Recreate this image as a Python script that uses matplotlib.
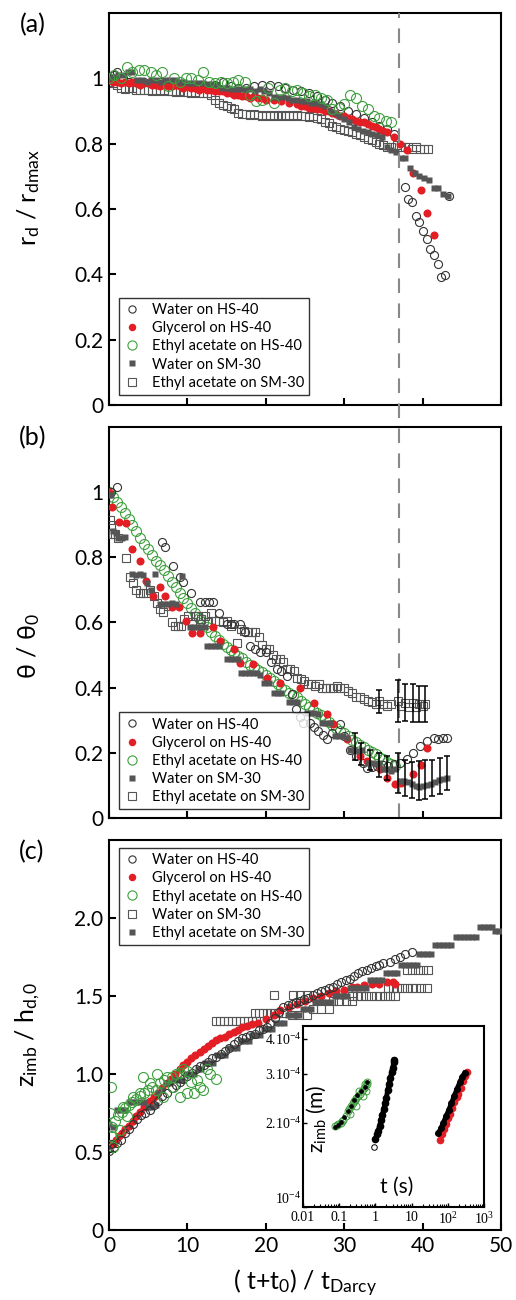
import numpy as np
import matplotlib
matplotlib.use('Agg')
import matplotlib.pyplot as plt
from matplotlib.lines import Line2D

plt.rcParams['font.family'] = ['Lato', 'DejaVu Sans']
plt.rcParams['mathtext.default'] = 'regular'

RED = '#e31e24'
GREEN = '#3f9f3f'
GRAY = '#555555'
DARK = '#333333'

# ---------------- panel (a): r_d / r_dmax ----------------
a_water_hs = [(0, 1.0), (0.6, 1.01), (1.0, 1.02), (1.8, 1.0), (2.6, 0.99), (3.5, 0.99), (4.5, 0.99),
              (5.5, 0.985), (6.5, 0.99), (7.5, 0.98), (8.5, 0.985), (9.5, 0.98), (10.5, 0.98),
              (11.5, 0.975), (12.5, 0.975), (13.5, 0.98), (14.5, 0.99), (15.5, 0.975), (16.5, 0.97),
              (17.5, 0.97), (18.5, 0.975), (19.5, 0.98), (20.5, 0.98), (21.5, 0.975), (22.5, 0.97),
              (23.5, 0.965), (24.5, 0.96), (25.5, 0.955), (26.5, 0.945), (27.5, 0.935), (28.5, 0.925),
              (29.5, 0.915), (30.5, 0.90), (31.5, 0.89), (32.5, 0.88), (33.5, 0.865), (34.5, 0.855),
              (35.5, 0.845), (36.3, 0.83), (37.8, 0.667), (38.1, 0.632), (38.6, 0.62), (39.1, 0.578),
              (39.6, 0.56), (40.1, 0.532), (40.5, 0.507), (41.0, 0.476), (41.4, 0.459), (42.0, 0.431),
              (42.4, 0.392), (42.9, 0.397), (43.4, 0.64)]
a_glycerol = [(0, 0.995), (0.5, 0.99), (1, 0.99), (1.5, 0.985), (2, 0.99), (2.5, 0.985), (3, 0.99),
              (3.5, 0.985), (4, 0.98), (4.5, 0.985), (5, 0.985), (5.5, 0.98), (6, 0.98), (6.5, 0.975),
              (7, 0.98), (7.5, 0.975), (8, 0.975), (8.5, 0.98), (9, 0.975), (9.5, 0.97), (10, 0.975),
              (10.5, 0.97), (11, 0.97), (11.5, 0.965), (12, 0.97), (12.5, 0.965), (13, 0.965),
              (13.5, 0.96), (14, 0.96), (14.5, 0.96), (15, 0.955), (15.5, 0.955), (16, 0.95),
              (16.5, 0.95), (17, 0.945), (17.5, 0.945), (18, 0.94), (18.5, 0.945), (19, 0.94),
              (19.5, 0.94), (20, 0.935), (21, 0.935), (22, 0.93), (23, 0.925), (24, 0.92), (24.5, 0.915),
              (25, 0.915), (25.5, 0.91), (26, 0.91), (26.5, 0.905), (27, 0.905), (27.5, 0.9), (28, 0.9),
              (28.5, 0.895), (29, 0.89), (29.5, 0.885), (30, 0.885), (30.5, 0.88), (31, 0.875),
              (31.5, 0.87), (32, 0.865), (32.5, 0.865), (33, 0.86), (33.5, 0.855), (34, 0.85),
              (34.5, 0.845), (35, 0.84), (35.5, 0.835), (36.3, 0.82), (37.1, 0.80), (38.0, 0.78),
              (38.8, 0.71), (39.8, 0.657), (40.5, 0.589), (41.4, 0.52)]
a_ethyl_hs = [(0, 1.0), (0.7, 1.01), (1.5, 1.0), (2.3, 1.035), (3, 1.02), (3.8, 1.025), (4.5, 1.025),
              (5.3, 1.02), (6, 1.01), (6.8, 1.02), (7.5, 0.975), (8.3, 1.0), (9, 0.99), (9.8, 1.0),
              (10.5, 1.0), (11.3, 0.995), (12, 1.02), (12.8, 0.99), (13.5, 0.985), (14.3, 0.99),
              (15, 0.985), (15.8, 0.99), (16.5, 0.995), (17.3, 0.99), (18, 0.95), (18.8, 0.93),
              (19.5, 0.935), (20.3, 0.97), (21, 0.925), (21.8, 0.965), (22.5, 0.97), (23.3, 0.96),
              (24, 0.965), (24.8, 0.955), (25.5, 0.945), (26.3, 0.95), (27, 0.94), (27.8, 0.935),
              (28.5, 0.905), (29.3, 0.91), (30, 0.92), (30.8, 0.95), (31.5, 0.94), (32.3, 0.915),
              (33, 0.905), (33.8, 0.885), (34.5, 0.88), (35.3, 0.87), (36, 0.865)]
a_water_sm = [(0, 1.0), (0.6, 1.005), (1.2, 1.01), (1.8, 1.01), (2.4, 1.018), (3.0, 1.018), (3.6, 0.995),
              (4.2, 0.995), (4.8, 0.99), (5.4, 0.995), (6.0, 0.995), (6.6, 0.99), (7.2, 0.995),
              (7.8, 0.994), (8.4, 0.994), (9.0, 0.99), (9.6, 0.99), (10.2, 0.985), (10.8, 0.985),
              (11.4, 0.985), (12.0, 0.985), (12.6, 0.982), (13.2, 0.982), (13.8, 0.98), (14.4, 0.97),
              (15.0, 0.97), (15.6, 0.968), (16.2, 0.968), (16.8, 0.968), (17.4, 0.966), (18.0, 0.966),
              (18.6, 0.96), (19.2, 0.966), (19.8, 0.96), (20.4, 0.955), (21.0, 0.942), (21.6, 0.942),
              (22.2, 0.942), (22.8, 0.94), (23.4, 0.935), (24.0, 0.935), (24.6, 0.932), (25.2, 0.93),
              (25.8, 0.925), (26.4, 0.925), (27.0, 0.92), (27.6, 0.915), (28.2, 0.9), (28.8, 0.895),
              (29.4, 0.885), (30.0, 0.875), (30.6, 0.865), (31.2, 0.85), (31.8, 0.845), (32.4, 0.84),
              (33.0, 0.835), (33.6, 0.83), (34.2, 0.825), (34.8, 0.82), (35.4, 0.79), (36.0, 0.78),
              (36.6, 0.775), (37.2, 0.755), (37.8, 0.755), (38.4, 0.725), (39.0, 0.71), (39.6, 0.70),
              (40.2, 0.694), (40.8, 0.69), (41.4, 0.663), (42.0, 0.663), (42.6, 0.645), (43.2, 0.64)]
a_ethyl_sm = [(0, 0.99), (0.5, 0.985), (1.0, 0.98), (1.5, 0.97), (2.0, 0.968), (2.5, 0.97), (3.0, 0.97),
              (3.5, 0.965), (4.0, 0.965), (4.5, 0.963), (5.0, 0.963), (5.5, 0.96), (6.0, 0.963),
              (6.5, 0.96), (7.0, 0.963), (7.5, 0.96), (8.0, 0.96), (8.5, 0.958), (9.0, 0.96),
              (9.5, 0.958), (10.0, 0.958), (10.5, 0.955), (11.0, 0.958), (11.5, 0.955), (12.0, 0.955),
              (12.5, 0.955), (13.0, 0.95), (13.5, 0.935), (14.0, 0.925), (14.5, 0.917), (15.0, 0.915),
              (15.5, 0.91), (16.0, 0.905), (16.5, 0.895), (17.0, 0.89), (17.5, 0.89), (18.0, 0.887),
              (18.5, 0.89), (19.0, 0.887), (19.5, 0.885), (20.0, 0.887), (20.5, 0.885), (21.0, 0.887),
              (21.5, 0.885), (22.0, 0.887), (22.5, 0.885), (23.0, 0.887), (23.5, 0.885), (24.0, 0.887),
              (24.5, 0.885), (25.0, 0.885), (25.5, 0.882), (26.0, 0.885), (26.5, 0.88), (27.0, 0.875),
              (27.5, 0.865), (28.0, 0.862), (28.5, 0.855), (29.0, 0.85), (29.5, 0.845), (30.0, 0.842),
              (30.5, 0.84), (31.0, 0.835), (31.5, 0.83), (32.0, 0.825), (32.5, 0.82), (33.0, 0.815),
              (33.5, 0.81), (34.0, 0.805), (34.5, 0.80), (35.0, 0.795), (35.5, 0.79), (36.0, 0.79),
              (36.7, 0.795), (37.2, 0.79), (37.7, 0.79), (38.2, 0.79), (38.7, 0.785), (39.2, 0.79),
              (39.7, 0.785), (40.2, 0.785), (40.7, 0.785)]

# ---------------- panel (b): theta / theta_0 ----------------
b_water_hs = [(0.3, 1.0), (1.0, 1.015), (6.7, 0.846), (7.1, 0.831), (8.2, 0.774), (9.0, 0.74), (9.5, 0.723),
              (10.5, 0.69), (11.6, 0.664), (12.2, 0.664), (12.8, 0.664), (13.3, 0.664), (14.0, 0.63),
              (15.0, 0.595), (15.5, 0.595), (16.0, 0.595), (16.7, 0.595), (17.3, 0.57), (18.0, 0.528),
              (18.6, 0.52), (19.3, 0.508), (20.0, 0.508), (20.7, 0.48), (21.4, 0.456), (22.0, 0.45),
              (22.7, 0.436), (23.3, 0.38), (23.9, 0.333), (24.4, 0.31), (24.8, 0.292), (25.6, 0.292),
              (26.2, 0.28), (26.7, 0.267), (27.3, 0.255), (27.8, 0.241), (28.5, 0.26), (29.5, 0.287),
              (30.0, 0.25), (30.7, 0.21), (31.5, 0.19), (32.4, 0.169), (32.9, 0.154), (33.5, 0.155),
              (34.2, 0.16), (35.0, 0.164), (35.6, 0.16), (36.3, 0.165), (37.1, 0.169), (38.0, 0.18),
              (38.8, 0.2), (39.7, 0.22), (40.5, 0.236), (41.4, 0.246), (42.0, 0.243), (42.6, 0.246),
              (43.1, 0.246)]
b_glycerol = [(0, 1.0), (0.4, 0.954), (1.3, 0.908), (2.2, 0.906), (3.0, 0.826), (4.0, 0.79), (4.7, 0.726),
              (5.6, 0.682), (6.5, 0.708), (7.2, 0.682), (8.1, 0.646), (8.9, 0.646), (9.8, 0.605),
              (10.6, 0.569), (11.6, 0.569), (13.3, 0.585), (14.2, 0.544), (15.9, 0.518), (16.7, 0.477),
              (18.4, 0.472), (20.1, 0.431), (21.8, 0.415), (24.4, 0.40), (26.1, 0.354), (27.8, 0.318),
              (28.6, 0.287), (30.3, 0.241), (32.0, 0.19), (32.9, 0.174), (34.6, 0.149), (35.4, 0.123),
              (36.5, 0.103), (37.3, 0.108), (38.8, 0.135), (39.8, 0.164), (40.6, 0.215)]
b_ethyl_hs = [(0, 1.0), (0.5, 0.985), (1.0, 0.97), (1.5, 0.955), (2.0, 0.935), (2.5, 0.918), (3.0, 0.9),
              (3.5, 0.88), (4.0, 0.86), (4.5, 0.842), (5.0, 0.825), (5.5, 0.808), (6.0, 0.79),
              (6.5, 0.775), (7.0, 0.76), (7.5, 0.742), (8.0, 0.725), (8.5, 0.708), (9.0, 0.69),
              (9.5, 0.675), (10.0, 0.66), (10.5, 0.645), (11.0, 0.63), (11.5, 0.615), (12.0, 0.6),
              (12.5, 0.585), (13.0, 0.57), (13.5, 0.558), (14.0, 0.545), (14.5, 0.535), (15.0, 0.525),
              (15.5, 0.515), (16.0, 0.505), (16.5, 0.498), (17.0, 0.49), (17.5, 0.48), (18.0, 0.47),
              (18.5, 0.462), (19.0, 0.455), (19.5, 0.448), (20.0, 0.44), (20.5, 0.43), (21.0, 0.42),
              (21.5, 0.41), (22.0, 0.40), (22.5, 0.392), (23.0, 0.385), (23.5, 0.378), (24.0, 0.37),
              (24.5, 0.36), (25.0, 0.35), (25.5, 0.34), (26.0, 0.33), (26.5, 0.322), (27.0, 0.315),
              (27.5, 0.305), (28.0, 0.295), (28.5, 0.285), (29.0, 0.275), (29.5, 0.268), (30.0, 0.26),
              (30.5, 0.25), (31.0, 0.24), (31.5, 0.232), (32.0, 0.225), (32.5, 0.218), (33.0, 0.21),
              (33.5, 0.202), (34.0, 0.195), (34.5, 0.188), (35.0, 0.18), (35.5, 0.172), (36.0, 0.165),
              (36.5, 0.158)]
b_water_sm = [(0, 0.99), (0.3, 0.99), (0.5, 0.882), (0.9, 0.875), (1.2, 0.858), (1.6, 0.858), (2.0, 0.862),
              (2.9, 0.749), (3.4, 0.745), (3.9, 0.75), (4.4, 0.745), (4.9, 0.72), (5.4, 0.70), (5.9, 0.749),
              (6.5, 0.656), (7.0, 0.656), (7.5, 0.656), (8.0, 0.66), (8.5, 0.656), (9.3, 0.744),
              (10.3, 0.585), (10.8, 0.585), (11.3, 0.585), (11.8, 0.585), (12.3, 0.585), (12.5, 0.528),
              (13.0, 0.528), (13.5, 0.528), (14.0, 0.528), (15.0, 0.487), (15.5, 0.487), (16.0, 0.487),
              (16.5, 0.487), (16.9, 0.446), (17.4, 0.446), (17.9, 0.446), (18.4, 0.446), (18.9, 0.446),
              (19.3, 0.44), (19.8, 0.415), (20.4, 0.415), (21.0, 0.383), (21.5, 0.383), (22.0, 0.383),
              (23.0, 0.356), (23.5, 0.356), (24.0, 0.356), (25.2, 0.323), (25.7, 0.323), (26.2, 0.323),
              (26.7, 0.32), (27.2, 0.292), (27.7, 0.292), (28.2, 0.29), (28.8, 0.251), (29.3, 0.25),
              (29.8, 0.251), (30.3, 0.245), (30.8, 0.21), (31.3, 0.21), (31.8, 0.205), (32.3, 0.21),
              (33.0, 0.17), (33.5, 0.169), (34.0, 0.165), (34.5, 0.169), (35.0, 0.15), (35.5, 0.149),
              (36.0, 0.145), (36.5, 0.149), (37.1, 0.113), (37.6, 0.113), (38.1, 0.11), (38.6, 0.105),
              (39.1, 0.097), (39.6, 0.095), (40.1, 0.097), (40.6, 0.10), (41.1, 0.105), (41.6, 0.11),
              (42.1, 0.115), (42.6, 0.12), (43.1, 0.123)]
b_ethyl_sm = [(0.1, 0.913), (0.3, 0.90), (0.55, 0.872), (0.8, 0.87), (1.1, 0.86), (2.2, 0.797), (2.7, 0.74),
              (3.1, 0.72), (3.5, 0.70), (3.9, 0.69), (4.3, 0.69), (4.7, 0.69), (5.2, 0.70), (5.7, 0.682),
              (6.1, 0.66), (6.5, 0.64), (6.9, 0.633), (7.5, 0.65), (8.0, 0.60), (8.4, 0.59), (8.8, 0.59),
              (9.2, 0.59), (9.6, 0.61), (10.1, 0.62), (10.6, 0.60), (11.0, 0.62), (11.4, 0.62),
              (11.8, 0.61), (12.2, 0.62), (12.6, 0.60), (13.0, 0.63), (13.5, 0.605), (14.0, 0.605),
              (14.5, 0.60), (15.0, 0.605), (15.5, 0.59), (16.3, 0.536), (16.8, 0.58), (17.2, 0.575),
              (17.7, 0.57), (18.2, 0.57), (18.6, 0.57), (19.1, 0.555), (19.5, 0.53), (20.0, 0.52),
              (20.4, 0.518), (20.9, 0.50), (21.3, 0.487), (21.8, 0.487), (22.2, 0.48), (22.7, 0.456),
              (23.1, 0.456), (23.6, 0.45), (24.0, 0.43), (24.5, 0.426), (24.9, 0.42), (25.4, 0.41),
              (25.8, 0.41), (26.3, 0.405), (26.8, 0.41), (27.2, 0.40), (27.7, 0.40), (28.2, 0.40),
              (28.6, 0.40), (29.1, 0.405), (29.5, 0.40), (30.0, 0.40), (30.5, 0.39), (31.0, 0.385),
              (31.5, 0.37), (32.0, 0.37), (32.5, 0.365), (33.0, 0.36), (33.5, 0.355), (34.0, 0.35),
              (34.4, 0.358), (35.0, 0.35), (35.5, 0.345), (36.0, 0.35), (36.9, 0.36), (37.3, 0.345),
              (37.8, 0.354), (38.3, 0.34), (38.8, 0.352), (39.2, 0.34), (39.6, 0.35), (40.0, 0.345),
              (40.3, 0.35)]
# error bars (x, y, half-width)
b_water_sm_err = [(31.4, 0.22, 0.041), (32.2, 0.197, 0.033), (33.3, 0.178, 0.031), (34.4, 0.163, 0.036),
                  (35.4, 0.153, 0.036), (36.9, 0.138, 0.062), (37.8, 0.123, 0.056), (38.6, 0.117, 0.056),
                  (39.5, 0.115, 0.059), (40.3, 0.118, 0.059), (41.2, 0.123, 0.056), (42.2, 0.129, 0.054),
                  (43.1, 0.138, 0.051)]
b_ethyl_sm_err = [(34.4, 0.358, 0.036), (36.9, 0.36, 0.064), (37.8, 0.354, 0.056), (38.8, 0.352, 0.058),
                  (39.6, 0.35, 0.056), (40.3, 0.35, 0.056)]

# ---------------- panel (c): z_imb / h_d,0 ----------------
c_water_hs = [(0, 0.51), (0.3, 0.55), (0.6, 0.53), (1.0, 0.56), (1.5, 0.58), (2.0, 0.62), (2.5, 0.65),
              (3.1, 0.68), (3.6, 0.71), (4.1, 0.74), (4.6, 0.75), (5.2, 0.77), (5.7, 0.80), (6.2, 0.83),
              (6.8, 0.86), (7.4, 0.88), (8.0, 0.91), (8.5, 0.93), (9.0, 0.95), (9.5, 0.97), (10.0, 0.99),
              (10.6, 1.01), (11.1, 1.03), (11.6, 1.05), (12.1, 1.06), (12.6, 1.08), (13.2, 1.10),
              (13.7, 1.11), (14.3, 1.13), (14.8, 1.15), (15.3, 1.17), (15.9, 1.19), (16.4, 1.21),
              (17.0, 1.23), (17.5, 1.24), (18.0, 1.25), (18.6, 1.26), (19.1, 1.28), (19.6, 1.29),
              (20.1, 1.30), (20.6, 1.33), (21.2, 1.36), (21.7, 1.40), (22.2, 1.43), (22.8, 1.44),
              (23.3, 1.45), (23.8, 1.46), (24.4, 1.47), (24.9, 1.48), (25.4, 1.49), (26.0, 1.51),
              (26.5, 1.52), (27.0, 1.53), (27.6, 1.54), (28.1, 1.55), (28.6, 1.56), (29.1, 1.58),
              (29.6, 1.59), (30.2, 1.60), (30.7, 1.61), (31.2, 1.63), (31.8, 1.65), (32.3, 1.66),
              (32.9, 1.67), (33.4, 1.68), (34.0, 1.69), (34.5, 1.70), (35.0, 1.71), (35.8, 1.72),
              (36.5, 1.74), (37.1, 1.75), (37.8, 1.77), (38.6, 1.78)]
c_glycerol = [(0.5, 0.55), (0.9, 0.58), (1.3, 0.60), (1.7, 0.62), (2.1, 0.65), (2.5, 0.67), (3.1, 0.70),
              (3.5, 0.73), (4.0, 0.76), (4.5, 0.79), (5.2, 0.83), (5.7, 0.85), (6.2, 0.88), (6.8, 0.91),
              (7.4, 0.94), (7.9, 0.97), (8.4, 1.0), (9.0, 1.03), (9.5, 1.06), (10.0, 1.08), (10.5, 1.10),
              (11.0, 1.12), (11.6, 1.14), (12.1, 1.16), (12.6, 1.18), (13.2, 1.2), (13.7, 1.22),
              (14.2, 1.23), (14.8, 1.24), (15.3, 1.26), (15.9, 1.27), (16.4, 1.28), (17.0, 1.30),
              (17.6, 1.31), (18.2, 1.32), (19.0, 1.33), (20.0, 1.35), (21.0, 1.38), (21.8, 1.41),
              (23.0, 1.43), (24.0, 1.45), (25.0, 1.47), (26.0, 1.49), (27.0, 1.50), (28.0, 1.52),
              (29.0, 1.53), (30.0, 1.54), (31.0, 1.56), (31.6, 1.56), (32.5, 1.57), (33.5, 1.58),
              (34.5, 1.58), (35.5, 1.59), (36.2, 1.59), (36.5, 1.58)]
c_ethyl_hs = [(0.2, 0.92), (0.1, 0.75), (0.2, 0.60), (0.5, 0.53), (0.4, 0.66), (0.8, 0.70), (1.2, 0.74),
              (1.4, 0.64), (1.6, 0.76), (1.8, 0.79), (2.0, 0.78), (2.3, 0.73), (2.5, 0.80), (3.0, 0.82),
              (3.1, 0.85), (3.5, 0.84), (3.9, 0.88), (4.0, 0.86), (4.4, 0.98), (4.5, 0.88), (5.0, 0.90),
              (5.2, 0.94), (5.5, 0.92), (6.0, 0.90), (6.1, 1.0), (6.5, 0.94), (6.9, 0.85), (7.0, 0.96),
              (7.4, 0.98), (8.0, 0.98), (8.2, 0.92), (8.5, 1.0), (9.0, 1.01), (9.1, 0.85), (9.5, 1.03),
              (9.9, 0.88), (10.0, 1.02), (10.5, 0.95), (10.8, 0.88), (11.2, 0.96), (11.6, 0.92),
              (12.0, 0.90), (12.5, 1.03), (12.9, 1.0), (13.7, 0.97)]
c_water_sm = [(13.7, 1.34), (14.2, 1.34), (14.7, 1.34), (15.2, 1.34), (15.7, 1.34), (16.2, 1.34),
              (16.7, 1.34), (17.2, 1.34), (17.7, 1.34), (18.2, 1.34), (18.8, 1.34), (18.6, 1.39),
              (19.1, 1.39), (19.6, 1.39), (20.1, 1.39), (20.6, 1.39), (21.1, 1.39), (21.6, 1.39),
              (22.2, 1.39), (21.0, 1.51), (23.5, 1.51), (24.4, 1.51), (25.3, 1.51), (23.3, 1.38),
              (24.2, 1.38), (25.2, 1.38), (26.0, 1.42), (27.0, 1.42), (28.0, 1.42), (28.6, 1.47),
              (29.4, 1.47), (30.2, 1.47), (31.0, 1.47), (31.0, 1.50), (31.6, 1.50), (32.2, 1.50),
              (32.8, 1.50), (33.4, 1.50), (34.0, 1.50), (34.6, 1.50), (35.2, 1.50), (35.8, 1.50),
              (36.5, 1.50), (35.6, 1.55), (36.2, 1.55), (36.8, 1.55), (37.4, 1.55), (38.0, 1.55),
              (38.6, 1.55), (39.2, 1.55), (39.8, 1.55), (40.5, 1.55), (38.0, 1.67), (38.7, 1.67),
              (39.4, 1.67), (40.1, 1.67), (40.7, 1.67)]
c_ethyl_sm = [(0, 0.68), (0.5, 0.66), (1.0, 0.77), (1.5, 0.77), (2.0, 0.77), (2.5, 0.82), (3.0, 0.82),
              (3.5, 0.82), (4.0, 0.82), (4.5, 0.82), (5.0, 0.79), (5.5, 0.79), (6.0, 0.80), (6.3, 0.88),
              (6.8, 0.90), (7.3, 0.94), (7.8, 0.94), (8.3, 0.96), (8.8, 0.96), (9.3, 0.96), (9.8, 1.0),
              (10.3, 1.0), (10.8, 1.0), (11.3, 1.03), (11.8, 1.03), (12.3, 1.07), (12.8, 1.07),
              (13.3, 1.07), (13.8, 1.12), (14.3, 1.12), (14.8, 1.12), (15.3, 1.17), (15.8, 1.17),
              (16.3, 1.17), (16.8, 1.21), (17.3, 1.21), (17.8, 1.21), (18.3, 1.25), (18.8, 1.25),
              (19.3, 1.25), (19.8, 1.29), (20.3, 1.29), (20.8, 1.29), (21.3, 1.33), (21.8, 1.33),
              (22.3, 1.33), (22.8, 1.38), (23.3, 1.38), (23.8, 1.38), (24.3, 1.38), (24.8, 1.42),
              (25.3, 1.42), (25.8, 1.42), (26.3, 1.46), (26.8, 1.46), (27.3, 1.46), (27.8, 1.46),
              (28.3, 1.46), (28.8, 1.50), (29.3, 1.50), (29.8, 1.50), (30.3, 1.50), (30.8, 1.55),
              (31.3, 1.55), (31.8, 1.55), (32.3, 1.55), (32.8, 1.55), (33.3, 1.60), (33.8, 1.60),
              (34.3, 1.60), (34.8, 1.60), (35.3, 1.65), (35.8, 1.65), (36.3, 1.65), (36.8, 1.65),
              (37.3, 1.70), (37.8, 1.70), (38.3, 1.70), (38.8, 1.70), (39.3, 1.70), (39.6, 1.77),
              (40.1, 1.77), (40.6, 1.77), (41.1, 1.77), (41.6, 1.83), (42.1, 1.83), (42.6, 1.83),
              (43.1, 1.83), (43.6, 1.83), (44.3, 1.88), (44.8, 1.88), (45.3, 1.88), (45.8, 1.88),
              (46.3, 1.88), (46.8, 1.88), (47.3, 1.94), (47.8, 1.94), (48.3, 1.94), (48.8, 1.94),
              (49.3, 1.92), (49.8, 1.92)]

# ---------------- inset: z_imb (m) vs t (s) ----------------
ins_ethyl_t = [0.075, 0.085, 0.095, 0.11, 0.12, 0.13, 0.15, 0.17, 0.19, 0.2, 0.21, 0.24, 0.25, 0.27,
               0.30, 0.30, 0.34, 0.35, 0.38, 0.42, 0.45, 0.47, 0.5, 0.52, 0.55, 0.57, 0.6]
ins_ethyl_z = [1.95, 1.96, 1.98, 2.0, 2.03, 2.05, 2.12, 2.2, 2.25, 2.15, 2.3, 2.35, 2.4, 2.42,
               2.45, 2.3, 2.5, 2.6, 2.55, 2.6, 2.5, 2.66, 2.75, 2.7, 2.6, 2.75, 2.8]
ins_ethyl_fit_t = [0.075, 0.09, 0.11, 0.14, 0.17, 0.21, 0.26, 0.32, 0.4, 0.5, 0.6]
ins_ethyl_fit_z = [1.93, 1.97, 2.02, 2.1, 2.2, 2.3, 2.42, 2.52, 2.6, 2.7, 2.8]
ins_water_t = [0.92, 1.0, 1.1, 1.2, 1.3, 1.42, 1.55, 1.7, 1.85, 2.0, 2.18, 2.4, 2.6, 2.8, 3.0, 3.2, 3.3]
ins_water_z = [1.64, 1.75, 1.82, 1.88, 1.95, 2.05, 2.13, 2.25, 2.35, 2.45, 2.63, 2.75, 2.9, 3.05, 3.15,
               3.3, 3.36]
ins_gly_t = [60, 70, 80, 90, 103, 115, 130, 150, 175, 196, 225, 260, 300, 335]
ins_gly_z = [1.74, 1.82, 1.9, 1.98, 2.08, 2.16, 2.26, 2.38, 2.48, 2.54, 2.68, 2.82, 2.96, 3.05]
ins_gly_fit_t = [55, 65, 75, 90, 105, 125, 150, 180, 215, 250, 290]
ins_gly_fit_z = [1.84, 1.92, 2.0, 2.12, 2.22, 2.35, 2.5, 2.65, 2.8, 2.93, 3.02]

STY = {
    'water_hs': dict(marker='o', ms=5.8, mfc='none', mec=DARK, mew=0.8, ls='none'),
    'glycerol': dict(marker='o', ms=5.8, mfc=RED, mec='none', ls='none'),
    'ethyl_hs': dict(marker='o', ms=7.2, mfc='none', mec=GREEN, mew=0.8, ls='none'),
    'filled_sq': dict(marker='s', ms=5.0, mfc=GRAY, mec='none', ls='none'),
    'open_sq': dict(marker='s', ms=5.5, mfc='none', mec=GRAY, mew=0.8, ls='none'),
}


def xy(pairs):
    arr = np.array(pairs, dtype=float)
    return arr[:, 0], arr[:, 1]


def style_axes(ax, ylim, yticks, ylabels, xlabels):
    ax.set_xlim(0, 50)
    ax.set_ylim(*ylim)
    ax.set_xticks([0, 10, 20, 30, 40, 50])
    if xlabels:
        ax.set_xticklabels(['0', '10', '20', '30', '40', '50'])
    else:
        ax.set_xticklabels([])
    ax.set_yticks(yticks)
    ax.set_yticklabels(ylabels)
    ax.tick_params(direction='in', length=5, width=1.5, labelsize=15, top=False, right=False, pad=4)
    for s in ax.spines.values():
        s.set_linewidth(1.5)


def add_legend(ax, entries, loc, anchor):
    handles = []
    for label, key in entries:
        st = dict(STY[key])
        st['ms'] = {'water_hs': 5.2, 'glycerol': 5.4, 'ethyl_hs': 6.6, 'filled_sq': 3.8, 'open_sq': 5.6}[key]
        handles.append(Line2D([], [], label=label, **st))
    leg = ax.legend(handles=handles, loc=loc, bbox_to_anchor=anchor, borderaxespad=0,
                    fontsize=10.5, frameon=True, fancybox=False, edgecolor='black',
                    handlelength=1.0, handletextpad=0.9, labelspacing=0.28, borderpad=0.35)
    leg.get_frame().set_linewidth(1.0)
    leg.set_zorder(20)


fig = plt.figure(figsize=(5.16, 13.0), dpi=100)
ax_a = fig.add_axes([0.2112, 0.6885, 0.7597, 0.3015])
ax_b = fig.add_axes([0.2112, 0.3708, 0.7597, 0.3008])
ax_c = fig.add_axes([0.2112, 0.0538, 0.7597, 0.3000])

# ---- (a)
ax_a.plot(*xy(a_ethyl_sm), **STY['open_sq'], zorder=2)
ax_a.plot(*xy(a_water_hs), **STY['water_hs'], zorder=3)
ax_a.plot(*xy(a_glycerol), **STY['glycerol'], zorder=4)
ax_a.plot(*xy(a_water_sm), **STY['filled_sq'], zorder=5)
ax_a.plot(*xy(a_ethyl_hs), **STY['ethyl_hs'], zorder=6)
style_axes(ax_a, (0, 1.2), [0, 0.2, 0.4, 0.6, 0.8, 1.0], ['0', '0.2', '0.4', '0.6', '0.8', '1'], False)
ax_a.set_ylabel('r$_d$ / r$_{dmax}$', fontsize=18)
ax_a.yaxis.set_label_coords(-0.17, 0.53)
legend_hs_sm = [('Water on HS-40', 'water_hs'), ('Glycerol on HS-40', 'glycerol'),
                ('Ethyl acetate on HS-40', 'ethyl_hs'), ('Water on SM-30', 'filled_sq'),
                ('Ethyl acetate on SM-30', 'open_sq')]
add_legend(ax_a, legend_hs_sm, 'lower left', (0.026, 0.026))

# ---- (b)
ax_b.plot(*xy(b_ethyl_hs), **STY['ethyl_hs'], zorder=2)
ax_b.plot(*xy(b_ethyl_sm), **STY['open_sq'], zorder=3)
ax_b.plot(*xy(b_water_hs), **STY['water_hs'], zorder=4)
ax_b.plot(*xy(b_glycerol), **STY['glycerol'], zorder=5)
ax_b.plot(*xy(b_water_sm), **STY['filled_sq'], zorder=6)
for errs in (b_water_sm_err, b_ethyl_sm_err):
    e = np.array(errs)
    ax_b.errorbar(e[:, 0], e[:, 1], yerr=e[:, 2], fmt='none', ecolor='black', elinewidth=1.1,
                  capsize=2.2, capthick=1.1, zorder=7)
style_axes(ax_b, (0, 1.2), [0, 0.2, 0.4, 0.6, 0.8, 1.0], ['0', '0.2', '0.4', '0.6', '0.8', '1'], False)
ax_b.set_ylabel('θ / θ$_0$', fontsize=18)
ax_b.yaxis.set_label_coords(-0.17, 0.44)
add_legend(ax_b, legend_hs_sm, 'lower left', (0.026, 0.023))

# dashed line through (a) and (b)
ax_b.axvline(37.0, ymin=0, ymax=(0.990 - 0.3708) / 0.3008, color='#888888', lw=1.5,
             dashes=(7, 5), clip_on=False, zorder=1)

# ---- (c)
ax_c.plot(*xy(c_water_sm), **STY['open_sq'], zorder=2)
ax_c.plot(*xy(c_glycerol), **STY['glycerol'], zorder=3)
ax_c.plot(*xy(c_ethyl_sm), **STY['filled_sq'], zorder=4)
ax_c.plot(*xy(c_water_hs), **STY['water_hs'], zorder=5)
ax_c.plot(*xy(c_ethyl_hs), **STY['ethyl_hs'], zorder=6)
style_axes(ax_c, (0, 2.5), [0, 0.5, 1.0, 1.5, 2.0], ['0', '0.5', '1.0', '1.5', '2.0'], True)
ax_c.set_ylabel('z$_{imb}$ / h$_{d,\\!0}$', fontsize=18)
ax_c.yaxis.set_label_coords(-0.17, 0.5)
ax_c.set_xlabel('( t+t$_0$) / t$_{Darcy}$', fontsize=18, labelpad=9)
legend_c = [('Water on HS-40', 'water_hs'), ('Glycerol on HS-40', 'glycerol'),
            ('Ethyl acetate on HS-40', 'ethyl_hs'), ('Water on SM-30', 'open_sq'),
            ('Ethyl acetate on SM-30', 'filled_sq')]
add_legend(ax_c, legend_c, 'upper left', (0.026, 0.979))

# ---- inset
ax_in = fig.add_axes([0.5872, 0.0715, 0.3508, 0.1392])
ax_in.set_zorder(10)
ax_in.set_xscale('log')
ax_in.set_yscale('log')
ax_in.plot(ins_ethyl_t, np.array(ins_ethyl_z) * 1e-4, marker='o', ms=5, mfc='none', mec=GREEN,
           mew=0.7, ls='none')
ax_in.plot(ins_ethyl_fit_t, np.array(ins_ethyl_fit_z) * 1e-4, marker='o', ms=2.4, color='black', ls='none')
ax_in.plot(ins_water_t[:1], np.array(ins_water_z[:1]) * 1e-4, marker='o', ms=4, mfc='white', mec='black',
           mew=0.7, ls='none')
ax_in.plot(ins_water_t[1:], np.array(ins_water_z[1:]) * 1e-4, marker='o', ms=4.5, color='black', ls='-', lw=3.5)
ax_in.plot(ins_gly_t, np.array(ins_gly_z) * 1e-4, marker='o', ms=4.5, color=RED, ls='none')
ax_in.plot(ins_gly_fit_t, np.array(ins_gly_fit_z) * 1e-4, marker='o', ms=4, color='black', ls='-', lw=3.5)
ax_in.set_xlim(0.01, 1000)
ax_in.set_ylim(1e-4, 4.45e-4)
ax_in.set_xticks([0.01, 0.1, 1, 10, 100, 1000])
ax_in.set_xticklabels(['0.01', '0.1', '1', '10', '10$^2$', '10$^3$'])
ax_in.set_yticks([1e-4, 2e-4, 3e-4, 4e-4])
ax_in.set_yticklabels(['10$^{-4}$', '2.10$^{-4}$', '3.10$^{-4}$', '4.10$^{-4}$'])
ax_in.yaxis.set_minor_locator(matplotlib.ticker.NullLocator())
ax_in.tick_params(which='both', direction='in', labelsize=10, top=False, right=False)
ax_in.tick_params(axis='x', pad=3)
ax_in.tick_params(axis='y', pad=1)
ax_in.tick_params(which='major', length=3, width=1)
ax_in.tick_params(which='minor', length=2, width=0.8)
for lab in ax_in.get_xticklabels() + ax_in.get_yticklabels():
    lab.set_family(['Liberation Serif', 'DejaVu Serif'])
ax_in.get_yticklabels()[0].set_va('bottom')
for s in ax_in.spines.values():
    s.set_linewidth(1.5)
ax_in.text(0.52, 0.11, 't (s)', transform=ax_in.transAxes, ha='center', va='center', fontsize=15)
ax_in.text(0.075, 0.49, 'z$_{imb}$ (m)', transform=ax_in.transAxes, ha='center', va='center',
           rotation=90, fontsize=15)

# panel letters
fig.text(33 / 516, 1 - 25 / 1300, '(a)', ha='center', va='center', fontsize=18)
fig.text(33 / 516, 1 - 438 / 1300, '(b)', ha='center', va='center', fontsize=18)
fig.text(32 / 516, 1 - 852 / 1300, '(c)', ha='center', va='center', fontsize=18)

fig.savefig('out.png', dpi=100)
